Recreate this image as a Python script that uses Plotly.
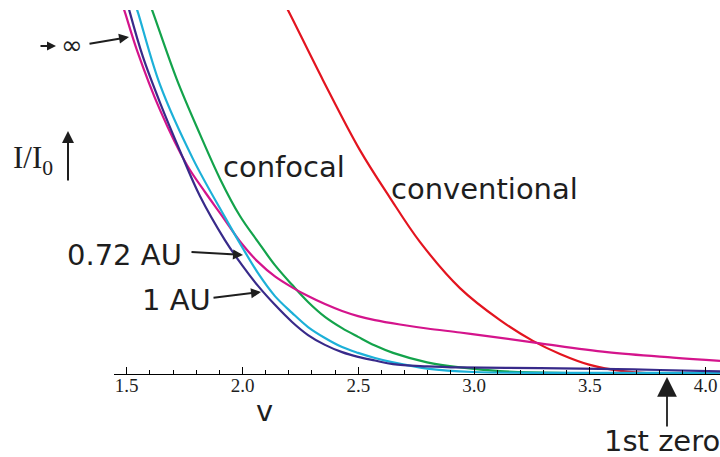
import plotly.graph_objects as go

# ---- data (v, normalized intensity) ----
v_inf = [1.475, 1.493, 1.544, 1.644, 1.760, 1.838, 1.903, 1.998, 2.067, 2.140, 2.214, 2.283,
         2.356, 2.430, 2.499, 2.572, 2.680, 2.797, 2.939, 3.082, 3.285, 3.574, 3.859, 4.062]
i_inf = [1.027, 0.992, 0.890, 0.725, 0.574, 0.500, 0.442, 0.357, 0.308, 0.268, 0.238, 0.214,
         0.192, 0.173, 0.159, 0.148, 0.136, 0.125, 0.114, 0.102, 0.084, 0.060, 0.045, 0.036]

v_1au = [1.500, 1.514, 1.570, 1.644, 1.730, 1.816, 1.924, 1.998, 2.067, 2.140, 2.214, 2.283,
         2.356, 2.430, 2.499, 2.572, 2.650, 2.797, 2.939, 3.285, 3.544, 3.803, 4.062]
i_1au = [1.027, 0.992, 0.871, 0.745, 0.613, 0.489, 0.368, 0.299, 0.242, 0.190, 0.143, 0.107,
         0.080, 0.060, 0.047, 0.037, 0.027, 0.021, 0.018, 0.016, 0.014, 0.011, 0.007]

v_072 = [1.531, 1.549, 1.644, 1.786, 1.924, 1.998, 2.067, 2.140, 2.214, 2.283, 2.356, 2.430,
         2.499, 2.572, 2.650, 2.797, 2.996, 3.371, 4.062]
i_072 = [1.027, 0.992, 0.794, 0.591, 0.431, 0.349, 0.277, 0.214, 0.168, 0.129, 0.099, 0.074,
         0.058, 0.044, 0.032, 0.015, 0.0055, 0.003, 0.003]

v_conf = [1.594, 1.614, 1.717, 1.816, 1.903, 1.989, 2.067, 2.140, 2.214, 2.283, 2.356, 2.430,
          2.499, 2.572, 2.650, 2.797, 2.939, 3.112, 3.371, 4.062]
i_conf = [1.027, 0.992, 0.808, 0.659, 0.536, 0.434, 0.363, 0.299, 0.245, 0.198, 0.157, 0.126,
          0.102, 0.078, 0.058, 0.032, 0.018, 0.008, 0.003, 0.001]

v_conv = [2.173, 2.196, 2.347, 2.507, 2.637, 2.766, 2.939, 3.112, 3.254, 3.371, 3.500, 3.643,
          3.833, 3.997, 4.062]
i_conv = [1.027, 1.000, 0.808, 0.615, 0.484, 0.363, 0.236, 0.148, 0.091, 0.055, 0.025, 0.008,
          0.000, 0.001, 0.003]

series = [
    ("conventional", v_conv, i_conv, "#e3141f"),
    ("confocal", v_conf, i_conf, "#13a34b"),
    ("∞", v_inf, i_inf, "#d4148c"),
    ("0.72 AU", v_072, i_072, "#1cb0d8"),
    ("1 AU", v_1au, i_1au, "#382a8a"),
]

W, H = 720, 457
L, R, T, B = 114, 0, 10, 83
PW, PH = W - L - R, H - T - B

def px(x):
    return (x - L) / PW

def py(y):
    return (H - B - y) / PH

fig = go.Figure()
for name, xs, ys, col in series:
    fig.add_trace(go.Scatter(x=xs, y=ys, mode="lines", name=name,
                             line=dict(color=col, width=2.2, shape="spline", smoothing=1.0),
                             showlegend=False, hoverinfo="skip"))

TXT = "#1e1e1e"
SANS = "DejaVu Sans"
ann = []

def text(s, x, y, size=29, xanchor="left", family=SANS):
    ann.append(dict(text=s, x=px(x), y=py(y), xref="paper", yref="paper", showarrow=False,
                    xanchor=xanchor, yanchor="middle", font=dict(family=family, size=size, color=TXT)))

def arrow(x0, y0, x1, y1, size=1.0, width=2.0):
    ann.append(dict(text="", x=px(x1), y=py(y1), xref="paper", yref="paper", showarrow=True,
                    ax=x0 - x1, ay=y0 - y1, axref="pixel", ayref="pixel",
                    arrowhead=2, arrowsize=size, arrowwidth=width, arrowcolor=TXT))

text("confocal", 221, 167)
text("conventional", 389, 189)
text("0.72 AU", 65, 255)
text("1 AU", 140, 300)
text("v", 264, 411, xanchor="center")
text("1st zero", 602, 441)
text("∞", 72, 45, size=26, xanchor="center")
text("I/I<sub>0</sub>", 11, 160, size=31, family="Liberation Serif")

arrow(190, 252, 243, 255)
arrow(212, 298, 261, 292)
arrow(88, 44, 129, 37)
arrow(39, 46, 56, 46, size=0.9)
arrow(68, 182, 68, 131, size=1.2)
arrow(667, 428, 667, 377, size=2.2, width=1.8)

fig.update_layout(
    width=W, height=H,
    margin=dict(l=L, r=R, t=T, b=B),
    paper_bgcolor="white", plot_bgcolor="white",
    annotations=ann,
    xaxis=dict(range=[1.445, 4.062], showgrid=False, zeroline=False,
               showline=True, linecolor="black", linewidth=1.3,
               ticks="inside", ticklen=7, tickwidth=1.2, tickcolor="black",
               dtick=0.5, tick0=1.5, tickformat=".1f", ticklabelstandoff=-6,
               minor=dict(ticks="inside", ticklen=4, tickwidth=1, tickcolor="black", dtick=0.1, tick0=1.5),
               tickfont=dict(family="Liberation Serif", size=19, color=TXT)),
    yaxis=dict(range=[0, 1], visible=False, showgrid=False, zeroline=False),
)

fig.write_html("out.html", config={"displayModeBar": False},
               post_script="document.body.style.margin='0';")
